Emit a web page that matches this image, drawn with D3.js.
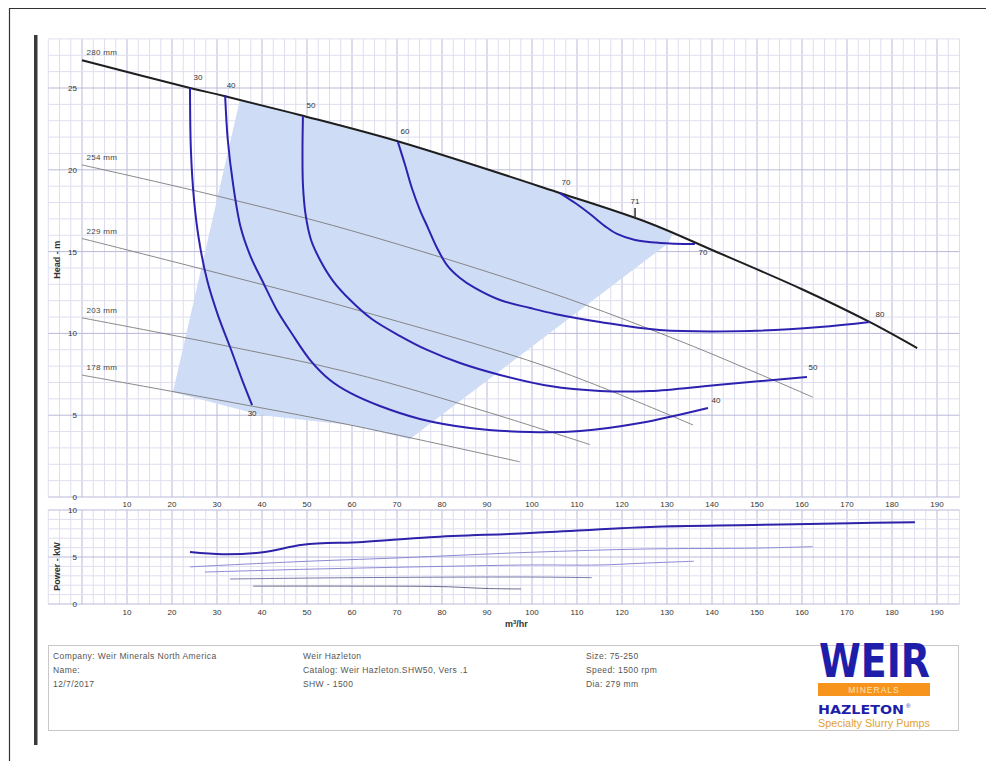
<!DOCTYPE html>
<html>
<head>
<meta charset="utf-8">
<script src="https://cdn.jsdelivr.net/npm/d3@7.9.0/dist/d3.min.js"></script>
<style>
  body { margin: 0; background: #fff; }
  svg text { font-family: "Liberation Sans", Arial, sans-serif; }
</style>
</head>
<body>
<div id="chart"></div>
<script>
// flow (m3/hr) vs head (m) per impeller diameter
const head280 = [[0,26.7],[24,25.0],[31.8,24.5],[48.4,23.35],[70.7,21.7],[106,18.6],[126,16.75],[140,15.1],[160,12.7],[175,10.7],[185.6,9.1]];
const head254 = [[0,20.3],[30,18.4],[59.6,16.3],[104,12.5],[135,9.3],[162.4,6.1]];
const head229 = [[0,15.8],[30,13.7],[59.6,11.55],[104,7.9],[135.8,4.4]];
const head203 = [[0,10.95],[30,9.35],[59.6,7.6],[90,5.2],[112.9,3.2]];
const head178 = [[0,7.45],[30,5.95],[59.6,4.4],[97.3,2.15]];
const diaLabels = ["280 mm", "254 mm", "229 mm", "203 mm", "178 mm"];

// efficiency iso-lines
const eff30 = [[24.0,25.0],[24.2,21.21],[24.9,18.15],[26.0,15.71],[27.8,13.26],[30.2,11.12],[32.9,9.17],[35.6,7.15],[37.8,5.62]];
const eff40 = [[31.8,24.57],[32.4,21.82],[33.6,19.07],[35.3,16.44],[37.6,14.61],[40.2,13.14],[43.3,11.43],[46.7,9.96],[50.7,8.37],[55.1,7.15],[59.6,6.36],[66.2,5.56],[75.1,4.77],[86.2,4.22],[99.6,3.97],[110.7,4.03],[124.0,4.52],[139.1,5.44]];
const eff50 = [[49.1,23.29],[49.0,21.21],[49.1,19.07],[49.7,17.24],[50.9,15.71],[52.9,14.49],[55.8,13.2],[59.6,12.04],[64.4,10.88],[70.7,9.84],[76.7,8.99],[84.0,8.19],[92.9,7.46],[104.0,6.78],[115.1,6.48],[126.2,6.48],[141.1,6.85],[161.1,7.33]];
const eff60 = [[70.2,21.7],[71.8,20.29],[73.3,18.89],[75.1,17.54],[76.9,16.44],[78.9,15.22],[81.1,14.18],[84.0,13.39],[87.3,12.78],[92.9,12.04],[99.6,11.55],[105.1,11.19],[115.1,10.7],[128.4,10.21],[148.4,10.15],[164.0,10.39],[175.1,10.7]];
const eff70 = [[106.2,18.58],[109.6,17.97],[112.9,17.3],[116.2,16.56],[118.9,16.08],[122.9,15.71],[128.4,15.53],[136.2,15.46]];
const effTopLabels = ["30", "40", "50", "60", "70"];
const effEndLabels = ["30", "40", "50", "80", "70"];
const bepMark = [122.9, 17.05, "71"];

// recommended operating region: left edge, bottom along 178 mm, right edge; top follows 280 mm
const regionEdge = [[35.1,24.3],[20.2,6.4],[40,5.0],[59.6,4.4],[72.9,3.55],[130.2,15.5]];

// power (kW)
const pow280 = [[24,5.53],[31.3,5.3],[40.2,5.5],[49.1,6.3],[62.4,6.6],[77.3,7.1],[99.6,7.55],[126.2,8.2],[149.1,8.4],[170.7,8.6],[185.1,8.7]];
const pow254 = [[24,3.95],[47.8,4.5],[70,4.9],[99.6,5.5],[125,5.85],[150,5.95],[162.4,6.1]];
const pow229 = [[27.3,3.4],[50,3.7],[80,4.0],[99.6,4.15],[115,4.15],[125,4.35],[136,4.55]];
const pow203 = [[32.9,2.66],[60,2.8],[99.6,2.87],[113.3,2.8]];
const pow178 = [[38,1.9],[60,1.9],[80,1.85],[90,1.65],[97.6,1.6]];

const flowTicks = [10,20,30,40,50,60,70,80,90,100,110,120,130,140,150,160,170,180,190];
const headTicks = [0,5,10,15,20,25];
const powerTicks = [0,5,10];

const infoCol1 = ["Company: Weir Minerals North America", "Name:", "12/7/2017"];
const infoCol2 = ["Weir Hazleton", "Catalog: Weir Hazleton.SHW50, Vers .1", "SHW - 1500"];
const infoCol3 = ["Size: 75-250", "Speed: 1500 rpm", "Dia: 279 mm"];

const W = 986, H = 761;
const svg = d3.select("#chart").append("svg")
    .attr("width", W).attr("height", H);

const x = d3.scaleLinear().domain([0, 195]).range([82, 959.5]);
const yH = d3.scaleLinear().domain([0, 25]).range([497, 88]);
const yP = d3.scaleLinear().domain([0, 10]).range([604, 510]);

// page frame
svg.append("path").attr("d", `M9.5,${H} V8.5 H${W}`)
    .attr("fill", "none").attr("stroke", "#333").attr("stroke-width", 1.2);
svg.append("rect").attr("x", 34).attr("y", 35).attr("width", 3.5).attr("height", 710).attr("fill", "#3a3a3a");

// grids
function drawGrid(yScale, yMax, step, major) {
    const g = svg.append("g");
    const gridX = d3.range(-7.5, 195.1, 2.5);
    const yTop = yScale(yMax), yBot = yScale(0);
    g.selectAll("line.v").data(gridX).enter().append("line")
        .attr("x1", d => x(d)).attr("x2", d => x(d))
        .attr("y1", yTop).attr("y2", yBot)
        .attr("stroke", d => d % 10 === 0 ? "#b9b9da" : "#dedef0")
        .attr("stroke-width", 1);
    g.selectAll("line.h").data(d3.range(0, yMax + 0.01, step)).enter().append("line")
        .attr("x1", x(-7.5)).attr("x2", x(195))
        .attr("y1", d => yScale(d)).attr("y2", d => yScale(d))
        .attr("stroke", d => d % major === 0 ? "#b9b9da" : "#dedef0")
        .attr("stroke-width", 1);
    return g;
}
drawGrid(yH, 28, 1, 5);
drawGrid(yP, 10, 1, 5);

const line = d3.line().x(d => x(d[0])).y(d => yH(d[1])).curve(d3.curveCatmullRom.alpha(0.5));
const pline = d3.line().x(d => x(d[0])).y(d => yP(d[1])).curve(d3.curveCatmullRom.alpha(0.5));

// shaded region
const topPts = head280.filter(d => d[0] > 35.1 && d[0] < 131).reverse();
const region = regionEdge.concat([[131.5, 16.2]], topPts);
svg.append("path")
    .attr("d", d3.line().x(d => x(d[0])).y(d => yH(d[1]))(region) + "Z")
    .attr("fill", "#cfdcf6").attr("stroke", "none");

// diameter curves
const heads = [head280, head254, head229, head203, head178];
svg.append("g").selectAll("path").data(heads).enter().append("path")
    .attr("d", line)
    .attr("fill", "none")
    .attr("stroke", (d, i) => i === 0 ? "#1e1e1e" : "#7a7a7a")
    .attr("stroke-width", (d, i) => i === 0 ? 2 : 0.9);

svg.append("g").selectAll("text").data(heads).enter().append("text")
    .attr("x", x(1)).attr("y", d => yH(d[0][1]) - 5)
    .style("font-size", "8px").style("letter-spacing", "0.3px").style("fill", "#444")
    .text((d, i) => diaLabels[i]);

// efficiency curves
const effs = [eff30, eff40, eff50, eff60, eff70];
svg.append("g").selectAll("path").data(effs).enter().append("path")
    .attr("d", line)
    .attr("fill", "none").attr("stroke", "#2d22b0").attr("stroke-width", 2);

const topOff = [[8,-8],[6,-7],[8,-8],[7,-8],[6,-8]];
const endOff = [[0,11],[8,-5],[6,-7],[10,-5],[8,11]];
const effLab = svg.append("g").style("font-size", "8px").style("fill", "#333");
effs.forEach((d, i) => {
    const a = d[0], b = d[d.length - 1];
    effLab.append("text").attr("x", x(a[0]) + topOff[i][0]).attr("y", yH(a[1]) + topOff[i][1])
        .attr("text-anchor", "middle").text(effTopLabels[i]);
    effLab.append("text").attr("x", x(b[0]) + endOff[i][0]).attr("y", yH(b[1]) + endOff[i][1])
        .attr("text-anchor", "middle").text(effEndLabels[i]);
});
svg.append("line")
    .attr("x1", x(bepMark[0])).attr("x2", x(bepMark[0]))
    .attr("y1", yH(bepMark[1])).attr("y2", yH(bepMark[1]) - 10)
    .attr("stroke", "#333").attr("stroke-width", 1.5);
effLab.append("text").attr("x", x(bepMark[0])).attr("y", yH(bepMark[1]) - 14)
    .attr("text-anchor", "middle").text(bepMark[2]);

// power curves
const pows = [pow280, pow254, pow229, pow203, pow178];
const powColor = ["#2d22a8", "#8c88d4", "#8c88d4", "#7878a8", "#6a6a8a"];
svg.append("g").selectAll("path").data(pows).enter().append("path")
    .attr("d", pline)
    .attr("fill", "none")
    .attr("stroke", (d, i) => powColor[i])
    .attr("stroke-width", (d, i) => i === 0 ? 2 : 1);

// tick labels
const tk = svg.append("g").style("font-size", "8px").style("fill", "#333");
[[yH(0) + 10], [yP(0) + 11]].forEach(([ty]) => {
    tk.selectAll(null).data(flowTicks).enter().append("text")
        .attr("x", d => x(d)).attr("y", ty)
        .attr("text-anchor", "middle").text(d => d);
});
tk.selectAll(null).data(headTicks).enter().append("text")
    .attr("x", 77).attr("y", d => yH(d) + 3)
    .attr("text-anchor", "end").text(d => d);
tk.selectAll(null).data(powerTicks).enter().append("text")
    .attr("x", 77).attr("y", d => yP(d) + 3)
    .attr("text-anchor", "end").text(d => d);

svg.append("text").attr("transform", `translate(60,${yH(14.5)}) rotate(-90)`)
    .attr("text-anchor", "middle").style("font-size", "9px").style("font-weight", "bold")
    .style("fill", "#333").text("Head - m");
svg.append("text").attr("transform", `translate(60,${yP(4)}) rotate(-90)`)
    .attr("text-anchor", "middle").style("font-size", "9px").style("font-weight", "bold")
    .style("fill", "#333").text("Power - kW");
svg.append("text").attr("x", 505).attr("y", 627)
    .style("font-size", "9px").style("font-weight", "bold").style("fill", "#333")
    .html("m<tspan dy='-3' style='font-size:6px'>3</tspan><tspan dy='3'>/hr</tspan>");

// info panel
svg.append("rect").attr("x", 48.5).attr("y", 645.5).attr("width", 910).attr("height", 85)
    .attr("fill", "none").attr("stroke", "#c8c8c8").attr("stroke-width", 1);
const info = svg.append("g").style("font-size", "8.5px").style("letter-spacing", "0.4px").style("fill", "#555");
[[53, infoCol1], [303, infoCol2], [586, infoCol3]].forEach(([cx, rows]) => {
    info.selectAll(null).data(rows).enter().append("text")
        .attr("x", cx).attr("y", (d, i) => 659 + i * 14).text(d => d);
});

// logo
const logo = svg.append("g");
logo.append("text").attr("x", 819).attr("y", 678)
    .attr("textLength", 111).attr("lengthAdjust", "spacingAndGlyphs")
    .attr("transform", "translate(0,-103) scale(1,1.15)")
    .style("font-family", "'DejaVu Sans', sans-serif").style("font-weight", "900")
    .style("font-size", "40px").style("fill", "#1e1eaa").text("WEIR");
logo.append("rect").attr("x", 818).attr("y", 683).attr("width", 112).attr("height", 13).attr("fill", "#f7941d");
logo.append("text").attr("x", 874).attr("y", 693).attr("text-anchor", "middle")
    .style("font-size", "8.5px").style("letter-spacing", "1px").style("fill", "#fde2b8").text("MINERALS");
logo.append("text").attr("x", 818).attr("y", 714)
    .attr("textLength", 86).attr("lengthAdjust", "spacingAndGlyphs")
    .style("font-family", "'DejaVu Sans', sans-serif")
    .style("font-size", "12px").style("font-weight", "bold").style("fill", "#1e1eaa")
    .text("HAZLETON");
logo.append("text").attr("x", 906).attr("y", 708)
    .style("font-size", "6px").style("fill", "#1e1eaa").text("®");
logo.append("text").attr("x", 818).attr("y", 727)
    .attr("textLength", 112).attr("lengthAdjust", "spacingAndGlyphs")
    .style("font-size", "10px").style("fill", "#e0a234").text("Specialty Slurry Pumps");
</script>
</body>
</html>
